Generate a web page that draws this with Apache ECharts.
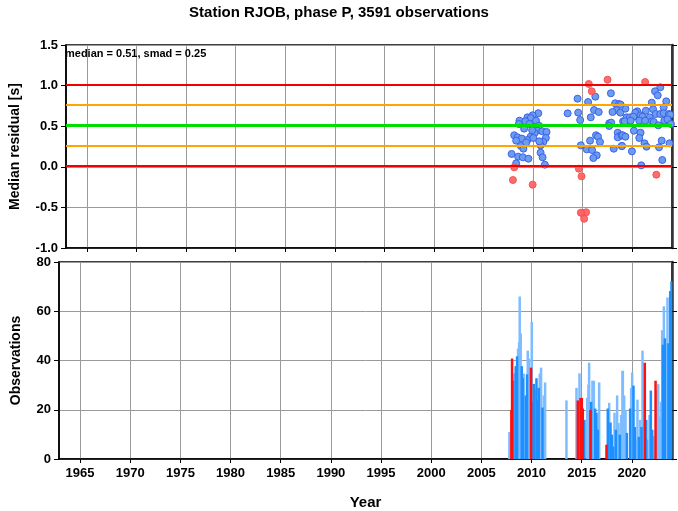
<!DOCTYPE html>
<html><head><meta charset="utf-8">
<script src="https://cdn.jsdelivr.net/npm/echarts@6/dist/echarts.min.js"></script>
<style>html,body{margin:0;padding:0;background:#fff}#c{width:678px;height:511px}</style>
</head><body><div id="c"></div>
<script>
const titleText = 'Station RJOB, phase P, 3591 observations';
const statsText = 'median = 0.51, smad = 0.25';
const yearTicks = [1965,1970,1975,1980,1985,1990,1995,2000,2005,2010,2015,2020];
const redLines = [0.01, 1.01];
const orangeLines = [0.26, 0.76];
const greenLines = [0.51];

const bluePoints = [
[2010.52,0.66],[2009.95,0.634],[2009.42,0.609],[2009.75,0.601],[2008.62,0.568],[2010.29,0.568],[2009.22,0.56],
[2008.56,0.527],[2009.62,0.527],[2010.59,0.507],[2009.09,0.47],[2010.42,0.445],[2010.92,0.437],[2011.35,0.429],
[2008.09,0.388],[2008.42,0.363],[2009.75,0.371],[2009.42,0.33],[2008.86,0.347],[2008.29,0.322],[2011.28,0.355],
[2011.02,0.306],[2010.75,0.264],[2008.76,0.256],[2009.02,0.223],[2007.83,0.158],[2008.49,0.125],[2008.96,0.117],
[2009.52,0.10],[2010.75,0.174],[2010.95,0.117],[2008.29,0.043],[2011.18,0.026],[2010.15,0.416],[2010.02,0.355],
[2010.62,0.314],[2009.9,0.45],[2009.3,0.3],
[2013.48,0.658],[2014.48,0.839],[2015.54,0.798],[2016.27,0.864],[2017.84,0.905],[2014.54,0.667],[2016.14,0.699],
[2016.61,0.675],[2015.81,0.609],[2014.74,0.576],[2018.27,0.782],[2018.67,0.773],[2018.40,0.699],[2018.80,0.667],
[2018.00,0.675],[2017.67,0.535],[2017.87,0.544],[2017.67,0.503],[2019.07,0.56],[2018.53,0.42],[2018.73,0.379],
[2018.53,0.363],[2018.93,0.388],[2016.34,0.388],[2016.54,0.371],[2015.74,0.322],[2016.74,0.306],[2014.81,0.264],
[2015.41,0.215],[2015.94,0.207],[2016.41,0.141],[2016.07,0.108],[2018.13,0.223],[2018.93,0.256],
[2022.82,0.979],[2022.29,0.93],[2022.56,0.88],[2023.42,0.806],[2021.96,0.79],[2023.16,0.732],[2019.30,0.716],
[2018.83,0.765],[2020.50,0.683],[2020.30,0.667],[2021.36,0.691],[2022.09,0.708],[2022.36,0.65],[2022.82,0.65],
[2023.16,0.659],[2023.69,0.65],[2023.82,0.642],[2019.43,0.609],[2019.76,0.609],[2020.10,0.617],[2020.83,0.634],
[2021.03,0.617],[2021.76,0.609],[2019.23,0.56],[2019.83,0.568],[2020.70,0.568],[2021.29,0.568],[2021.96,0.56],
[2022.16,0.552],[2023.22,0.568],[2023.55,0.585],[2023.89,0.527],[2022.62,0.511],[2020.16,0.445],[2020.83,0.42],
[2019.03,0.388],[2019.30,0.371],[2020.70,0.355],[2022.96,0.322],[2021.23,0.289],[2021.43,0.248],[2022.69,0.24],
[2023.75,0.289],[2018.96,0.256],[2019.96,0.19],[2023.02,0.084],[2020.90,0.018]
];
const redPoints = [
[2008.09,-0.007],[2007.96,-0.163],[2009.95,-0.22],
[2015.61,1.02],[2017.50,1.073],[2015.91,0.93],[2014.61,-0.023],[2014.88,-0.117],
[2014.94,-0.57],[2015.34,-0.56],[2015.14,-0.64],[2014.81,-0.565],
[2021.29,1.044],[2022.42,-0.097]
];

const blueBars = [
[2008.16,31.8],[2008.42,37.7],[2008.56,41.7],[2009.02,37.7],[2009.12,32.8],[2009.42,25.8],[2009.55,34.4],
[2010.15,23.2],[2010.22,30.5],[2010.49,32.8],[2010.62,24.1],[2010.72,28.9],[2011.09,20.9],
[2015.27,15.9],[2015.94,23.2],[2016.34,20.5],[2016.47,18.8],[2016.61,11.9],[2017.60,20.5],[2017.87,14.8],
[2018.00,9.9],[2018.13,5],[2018.40,11.9],[2018.80,9.9],[2019.50,10.6],[2019.83,20.5],[2020.16,29.8],
[2020.30,13],[2020.70,9],[2020.96,13],[2021.43,15.9],[2021.89,27.8],[2022.03,11.9],[2023.09,46.4],
[2023.29,49],[2023.65,47],[2023.82,68.2],[2023.95,72.2]
];
const lightBars = [
[2007.79,11],[2008.29,34.7],[2008.66,44.8],[2008.76,47.4],[2008.82,66],[2008.92,51],[2009.22,34.7],
[2009.62,44],[2009.75,40.8],[2010.02,55.6],[2010.35,28.1],[2010.82,34.7],[2010.95,37.1],[2011.22,25.8],
[2011.35,31.1],[2013.48,23.8],[2014.48,28.9],[2014.78,34.8],[2015.54,24.9],[2015.67,30.2],[2015.74,39.1],
[2016.07,31.8],[2016.21,31.8],[2016.74,31.1],[2017.74,22.8],[2018.27,18.8],[2018.53,25.8],[2018.67,14.6],
[2018.93,17.9],[2019.07,35.8],[2019.10,35.8],[2019.23,25.8],[2019.37,19.9],[2019.93,28.9],[2020.03,35.1],
[2020.43,7.9],[2020.56,24.1],[2020.83,15.9],[2021.06,44],[2021.16,23.8],[2021.56,7.9],[2021.76,17.9],
[2022.16,9.3],[2022.49,27.8],[2022.62,30.4],[2022.76,17.2],[2022.89,23.2],[2023.02,52.3],[2023.19,62],
[2023.42,46.4],[2023.55,65.6]
];
const redBars = [
[2007.99,19.9],[2008.06,40.8],[2009.95,37.1],[2014.61,23.8],[2014.88,24.8],[2015.01,24.8],[2015.11,20.5],
[2015.87,19.9],[2017.47,5.8],[2021.29,39.1],[2022.36,31.8]
];

const BLUE = '#1E8FFF', LIGHT = '#7DBDFF', RED = '#FF1010';
const barData = []
  .concat(lightBars.map(d => ({value: d, itemStyle: {color: LIGHT}})))
  .concat(blueBars.map(d => ({value: d, itemStyle: {color: BLUE}})))
  .concat(redBars.map(d => ({value: d, itemStyle: {color: RED}})));

const FONT = 'Liberation Sans, Arial, sans-serif';
const XMIN = 1962.9, XMAX = 2024.0;
const gridLine = {show: true, lineStyle: {color: '#9a9a9a', width: 1}};
const lbl = {fontFamily: FONT, fontWeight: 'bold', fontSize: 13, color: '#000'};

function hLines(vals, color, width) {
  return vals.map(v => ({yAxis: v, lineStyle: {color: color, width: width, type: 'solid'}}));
}

const chart = echarts.init(document.getElementById('c'), null, {renderer: 'canvas'});
chart.setOption({
  animation: false,
  title: {text: titleText, left: 'center', top: 0, textStyle: {fontFamily: FONT, fontWeight: 'bold', fontSize: 15, color: '#000'}},
  graphic: [{type: 'text', left: 65, top: 48, z: 100, style: {text: statsText, fontFamily: FONT, fontWeight: 'bold', fontSize: 11, fill: '#000'}}],
  grid: [
    {left: 59, right: 6, top: 45, height: 203, show: true, borderColor: '#000', borderWidth: 1.5, backgroundColor: 'transparent'},
    {left: 59, right: 6, top: 262, height: 201, show: true, borderColor: '#000', borderWidth: 1.5, backgroundColor: 'transparent'}
  ],
  xAxis: [
    {gridIndex: 0, type: 'value', min: XMIN, max: XMAX, position: 'bottom',
     axisLine: {show: true, onZero: false, lineStyle: {color: '#000', width: 1.5}},
     axisTick: {show: true, length: 4, customValues: yearTicks, lineStyle: {color: '#000'}},
     axisLabel: Object.assign({}, lbl, {customValues: yearTicks, formatter: v => String(v), color: 'rgba(0,0,0,0)'}),
     splitLine: gridLine},
    {gridIndex: 1, type: 'value', min: XMIN, max: XMAX, position: 'bottom',
     name: 'Year', nameLocation: 'middle', nameGap: 36,
     nameTextStyle: {fontFamily: FONT, fontWeight: 'bold', fontSize: 15, color: '#000'},
     axisLine: {show: true, onZero: false, lineStyle: {color: '#000', width: 1.5}},
     axisTick: {show: true, length: 4, customValues: yearTicks, lineStyle: {color: '#000'}},
     axisLabel: Object.assign({customValues: yearTicks, margin: 8, formatter: v => String(v)}, lbl), splitLine: gridLine}
  ],
  yAxis: [
    {gridIndex: 0, type: 'value', min: -1, max: 1.5, interval: 0.5, position: 'left',
     name: 'Median residual [s]', nameLocation: 'middle', nameGap: 44,
     nameTextStyle: {fontFamily: FONT, fontWeight: 'bold', fontSize: 14, color: '#000'},
     axisLine: {show: true, lineStyle: {color: '#000', width: 1.5}},
     axisTick: {show: true, length: 5, lineStyle: {color: '#000'}},
     axisLabel: Object.assign({margin: 8, formatter: v => v.toFixed(1)}, lbl), splitLine: gridLine},
    {gridIndex: 0, type: 'value', min: -1, max: 1.5, interval: 0.5, position: 'right',
     axisLine: {show: true, lineStyle: {color: '#333', width: 2.5}},
     axisTick: {show: true, length: 5, lineStyle: {color: '#000'}},
     axisLabel: {show: false}, splitLine: {show: false}},
    {gridIndex: 1, type: 'value', min: 0, max: 80, interval: 20, position: 'left',
     name: 'Observations', nameLocation: 'middle', nameGap: 36,
     nameTextStyle: {fontFamily: FONT, fontWeight: 'bold', fontSize: 14, color: '#000'},
     axisLine: {show: true, lineStyle: {color: '#000', width: 1.5}},
     axisTick: {show: true, length: 5, lineStyle: {color: '#000'}},
     axisLabel: Object.assign({margin: 8}, lbl), splitLine: gridLine},
    {gridIndex: 1, type: 'value', min: 0, max: 80, interval: 20, position: 'right',
     axisLine: {show: true, lineStyle: {color: '#333', width: 2.5}},
     axisTick: {show: true, length: 5, lineStyle: {color: '#000'}},
     axisLabel: {show: false}, splitLine: {show: false}}
  ],
  series: [
    {type: 'line', xAxisIndex: 0, yAxisIndex: 0, data: [], silent: true,
     markLine: {silent: true, symbol: 'none', label: {show: false}, animation: false,
       data: [].concat(hLines(orangeLines, '#FFA500', 2), hLines(redLines, '#F00000', 2), hLines(greenLines, '#00E000', 3))}},
    {type: 'scatter', xAxisIndex: 0, yAxisIndex: 0, data: bluePoints, symbolSize: 7,
     itemStyle: {color: '#6C9CF0', borderColor: '#3A62E8', borderWidth: 1, opacity: 1}},
    {type: 'scatter', xAxisIndex: 0, yAxisIndex: 0, data: redPoints, symbolSize: 7,
     itemStyle: {color: '#FF6464', borderColor: '#F25050', borderWidth: 1, opacity: 0.95}},
    {type: 'bar', xAxisIndex: 1, yAxisIndex: 2, data: barData, barWidth: 2.5, large: false}
  ]
});
</script></body></html>
